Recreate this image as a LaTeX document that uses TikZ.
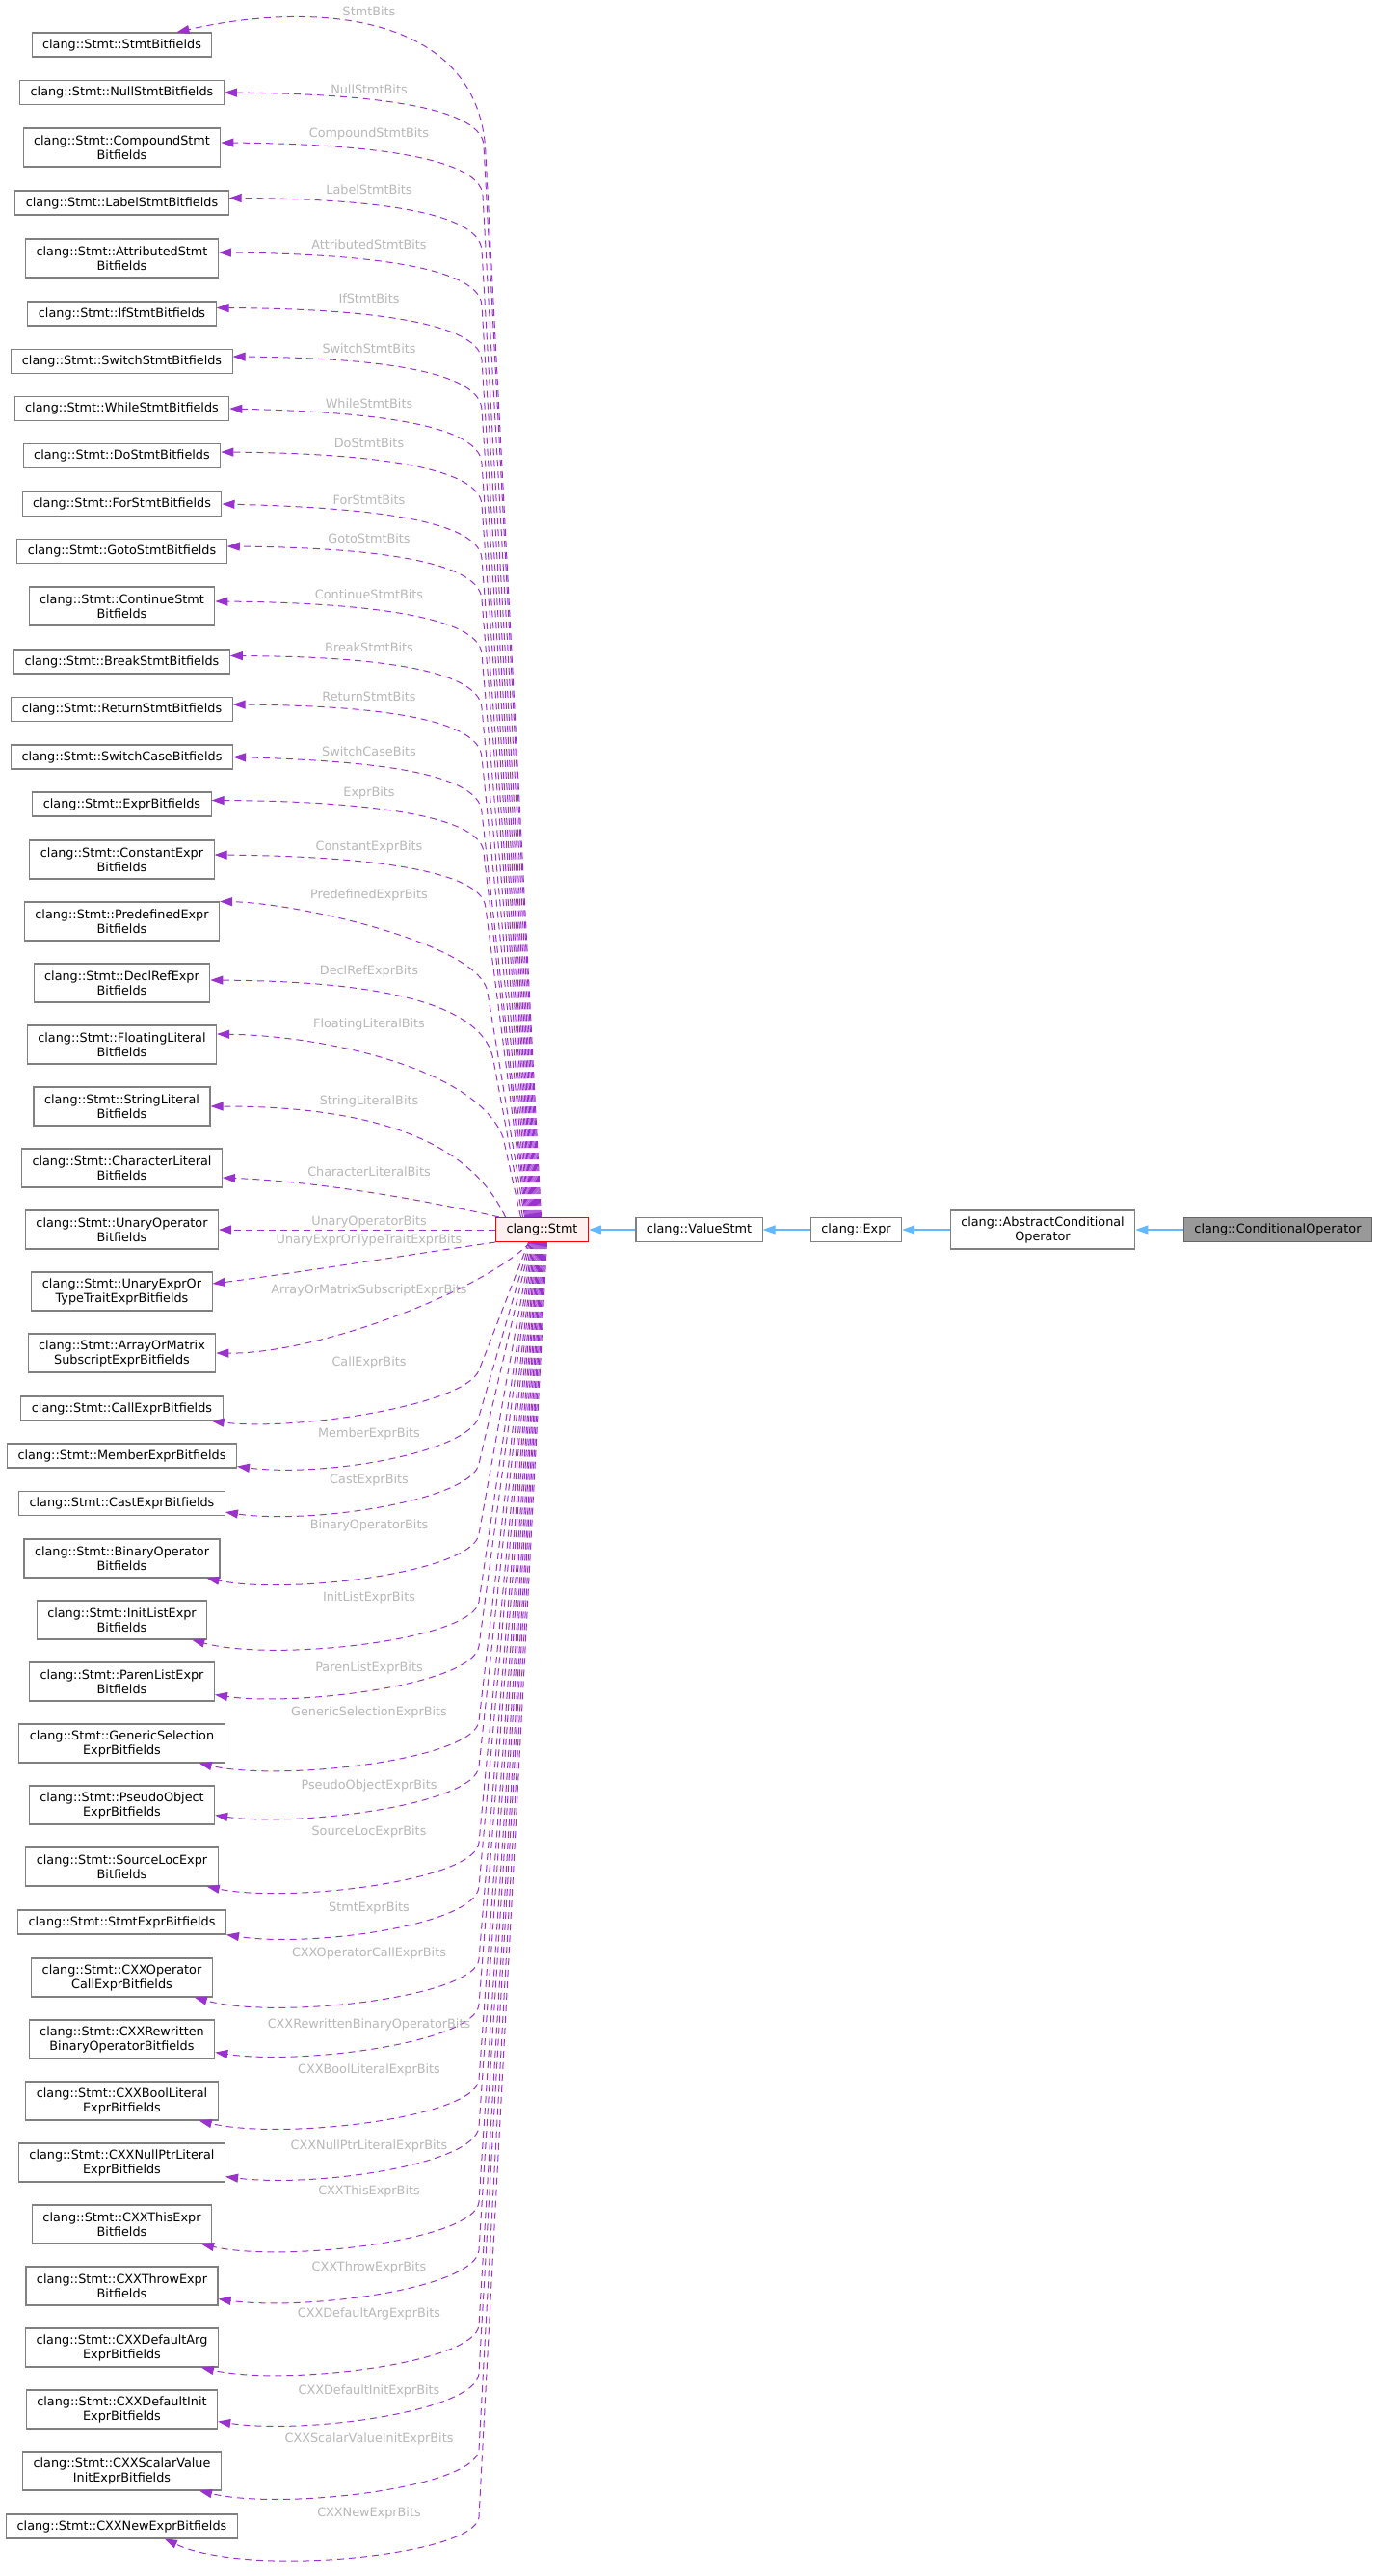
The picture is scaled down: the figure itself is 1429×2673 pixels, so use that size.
\documentclass[tikz,border=0pt]{standalone}
\usepackage{fontspec}
\setmainfont{DejaVu Sans}
\usetikzlibrary{arrows.meta,calc}
\definecolor{purp}{HTML}{9A32CD}
\definecolor{inhblue}{HTML}{63B8FF}
\definecolor{bordergray}{HTML}{808080}
\definecolor{lblgray}{HTML}{B8B8B8}
\definecolor{stmtfill}{HTML}{FFF0F0}
\definecolor{condfill}{HTML}{999999}
\definecolor{conddraw}{HTML}{666666}
\tikzset{
 cls/.style={draw=bordergray, line width=1.1pt, fill=white, inner xsep=11pt, inner ysep=5pt, minimum height=25pt, align=center, font=\fontsize{12.8pt}{15pt}\selectfont},
 cls2/.style={cls, minimum height=40pt},
 lbl/.style={text=lblgray, inner sep=0pt, font=\fontsize{12.8pt}{15pt}\selectfont},
 dep/.style={draw=purp, line width=1.0pt, dash pattern=on 7pt off 5pt, -{Triangle[length=13pt,width=9pt]}},
 inh/.style={draw=inhblue, line width=1.2pt, -{Triangle[length=13pt,width=9pt]}},
}
% #1 id, #2 stmt anchor, #3 xshift, #4 tip, #5 K, #6 c1, #7 c2, #8 label, #9 label y
\newcommand\edgeE[9]{%
  \draw[dep] ([xshift=#3pt]stmt.#2) -- (#5) .. controls (#6) and (#7) .. (#4);
  \node[lbl] (l#1) at (383,#9) {#8};
}
\begin{document}
\begin{tikzpicture}[x=1pt,y=-1pt]
\useasboundingbox[fill=white] (0,0) rectangle (1429,2673);
% right chain
\node[cls, fill=stmtfill, draw=red] (stmt) at (562.5,1276) {clang::Stmt};
\node[cls] (vstmt) at (725.5,1276) {clang::ValueStmt};
\node[cls] (expr) at (888.5,1276) {clang::Expr};
\node[cls2] (acond) at (1082,1276) {clang::AbstractConditional\\Operator};
\node[cls, fill=condfill, draw=conddraw] (cond) at (1326,1276) {clang::ConditionalOperator};
\draw[inh] (vstmt.west) -- (stmt.east);
\draw[inh] (expr.west) -- (vstmt.east);
\draw[inh] (acond.west) -- (expr.east);
\draw[inh] (cond.west) -- (acond.east);
% left column
\node[cls] (b1) at (126.5,46.5) {clang::Stmt::StmtBitfields};
\node[cls] (b2) at (126.5,96) {clang::Stmt::NullStmtBitfields};
\node[cls2] (b3) at (126.5,153) {clang::Stmt::CompoundStmt\\Bitfields};
\node[cls] (b4) at (126.5,210.5) {clang::Stmt::LabelStmtBitfields};
\node[cls2] (b5) at (126.5,268) {clang::Stmt::AttributedStmt\\Bitfields};
\node[cls] (b6) at (126.5,325.5) {clang::Stmt::IfStmtBitfields};
\node[cls] (b7) at (126.5,375) {clang::Stmt::SwitchStmtBitfields};
\node[cls] (b8) at (126.5,424) {clang::Stmt::WhileStmtBitfields};
\node[cls] (b9) at (126.5,473) {clang::Stmt::DoStmtBitfields};
\node[cls] (b10) at (126.5,523) {clang::Stmt::ForStmtBitfields};
\node[cls] (b11) at (126.5,572) {clang::Stmt::GotoStmtBitfields};
\node[cls2] (b12) at (126.5,629) {clang::Stmt::ContinueStmt\\Bitfields};
\node[cls] (b13) at (126.5,686.5) {clang::Stmt::BreakStmtBitfields};
\node[cls] (b14) at (126.5,736) {clang::Stmt::ReturnStmtBitfields};
\node[cls] (b15) at (126.5,785.5) {clang::Stmt::SwitchCaseBitfields};
\node[cls] (b16) at (126.5,834.5) {clang::Stmt::ExprBitfields};
\node[cls2] (b17) at (126.5,892) {clang::Stmt::ConstantExpr\\Bitfields};
\node[cls2] (b18) at (126.5,956) {clang::Stmt::PredefinedExpr\\Bitfields};
\node[cls2] (b19) at (126.5,1020) {clang::Stmt::DeclRefExpr\\Bitfields};
\node[cls2] (b20) at (126.5,1084) {clang::Stmt::FloatingLiteral\\Bitfields};
\node[cls2] (b21) at (126.5,1148) {clang::Stmt::StringLiteral\\Bitfields};
\node[cls2] (b22) at (126.5,1212) {clang::Stmt::CharacterLiteral\\Bitfields};
\node[cls2] (b23) at (126.5,1276) {clang::Stmt::UnaryOperator\\Bitfields};
\node[cls2] (b24) at (126.5,1340) {clang::Stmt::UnaryExprOr\\TypeTraitExprBitfields};
\node[cls2] (b25) at (126.5,1404) {clang::Stmt::ArrayOrMatrix\\SubscriptExprBitfields};
\node[cls] (b26) at (126.5,1461.5) {clang::Stmt::CallExprBitfields};
\node[cls] (b27) at (126.5,1510.5) {clang::Stmt::MemberExprBitfields};
\node[cls] (b28) at (126.5,1560) {clang::Stmt::CastExprBitfields};
\node[cls2] (b29) at (126.5,1617) {clang::Stmt::BinaryOperator\\Bitfields};
\node[cls2] (b30) at (126.5,1681) {clang::Stmt::InitListExpr\\Bitfields};
\node[cls2] (b31) at (126.5,1745) {clang::Stmt::ParenListExpr\\Bitfields};
\node[cls2] (b32) at (126.5,1809) {clang::Stmt::GenericSelection\\ExprBitfields};
\node[cls2] (b33) at (126.5,1873) {clang::Stmt::PseudoObject\\ExprBitfields};
\node[cls2] (b34) at (126.5,1937) {clang::Stmt::SourceLocExpr\\Bitfields};
\node[cls] (b35) at (126.5,1994.5) {clang::Stmt::StmtExprBitfields};
\node[cls2] (b36) at (126.5,2052) {clang::Stmt::CXXOperator\\CallExprBitfields};
\node[cls2] (b37) at (126.5,2116) {clang::Stmt::CXXRewritten\\BinaryOperatorBitfields};
\node[cls2] (b38) at (126.5,2180) {clang::Stmt::CXXBoolLiteral\\ExprBitfields};
\node[cls2] (b39) at (126.5,2244) {clang::Stmt::CXXNullPtrLiteral\\ExprBitfields};
\node[cls2] (b40) at (126.5,2308) {clang::Stmt::CXXThisExpr\\Bitfields};
\node[cls2] (b41) at (126.5,2372) {clang::Stmt::CXXThrowExpr\\Bitfields};
\node[cls2] (b42) at (126.5,2436) {clang::Stmt::CXXDefaultArg\\ExprBitfields};
\node[cls2] (b43) at (126.5,2500) {clang::Stmt::CXXDefaultInit\\ExprBitfields};
\node[cls2] (b44) at (126.5,2564) {clang::Stmt::CXXScalarValue\\InitExprBitfields};
\node[cls] (b45) at (126.5,2621.5) {clang::Stmt::CXXNewExprBitfields};
% upper edges
\edgeE{1}{north}{-1}{[xshift=-37pt]b1.north east}{504,160}{499,15}{330,0}{StmtBits}{12}
\edgeE{2}{north}{-2}{b2.east}{502,151}{500,106}{354,97}{NullStmtBits}{93}
\edgeE{3}{north}{-3}{[yshift=5pt]b3.east}{501,203}{499,158}{349,149}{CompoundStmtBits}{139}
\edgeE{4}{north}{-4}{[yshift=5pt]b4.east}{500,260}{498,215}{358,206}{LabelStmtBits}{197}
\edgeE{5}{north}{-5}{[yshift=6pt]b5.east}{500,317}{498,272}{347,263}{AttributedStmtBits}{254}
\edgeE{6}{north}{-6}{[yshift=6pt]b6.east}{500,374}{498,329}{345,320}{IfStmtBits}{310}
\edgeE{7}{north}{-7}{[yshift=5pt]b7.east}{500,425}{498,380}{362,371}{SwitchStmtBits}{362}
\edgeE{8}{north}{-8}{b8.east}{500,481}{498,436}{360,427}{WhileStmtBits}{419}
\edgeE{9}{north}{-9}{[yshift=4pt]b9.east}{500,524}{498,479}{350,470}{DoStmtBits}{460}
\edgeE{10}{north}{-10}{b10.east}{500,580}{498,535}{351,526}{ForStmtBits}{519}
\edgeE{11}{north}{-11}{[yshift=5pt]b11.east}{500,622}{498,577}{356,568}{GotoStmtBits}{559}
\edgeE{12}{north}{-12}{[yshift=5pt]b12.east}{500,679}{498,634}{343,625}{ContinueStmtBits}{617}
\edgeE{13}{north}{-13}{[yshift=6pt]b13.east}{500,735}{498,690}{360,681}{BreakStmtBits}{672}
\edgeE{14}{north}{-14}{[yshift=5pt]b14.east}{500,786}{498,741}{362,732}{ReturnStmtBits}{723}
\edgeE{15}{north}{-15}{b15.east}{500,843}{498,798}{363,789}{SwitchCaseBits}{780}
\edgeE{16}{north}{-16}{[yshift=4pt]b16.east}{502,885}{500,840}{340,831}{ExprBits}{823}
\edgeE{17}{north}{-17}{[yshift=5pt]b17.east}{504,942}{501,897}{342,888}{ConstantExprBits}{879}
\edgeE{18}{north}{-18}{b18.north east}{506,1030}{500,980}{310,937}{PredefinedExprBits}{929}
\edgeE{19}{north}{-20}{[yshift=3pt]b19.east}{512,1100}{500,1030}{350,1018}{DeclRefExprBits}{1008}
\edgeE{20}{north}{-22}{[yshift=11pt]b20.east}{522,1180}{495,1110}{340,1075}{FloatingLiteralBits}{1063}
\draw[dep] ([xshift=-38pt]stmt.north) .. controls (495,1200) and (420,1148) .. (b21.east);
\node[lbl] (l21) at (383,1143) {StringLiteralBits};
\draw[dep] ([xshift=4pt]stmt.north west) .. controls (440,1245) and (330,1226) .. ([yshift=-10pt]b22.east);
\node[lbl] (l22) at (383,1216) {CharacterLiteralBits};
\draw[dep] (stmt.west) -- (b23.east);
\node[lbl] (l23) at (383,1268) {UnaryOperatorBits};
\draw[dep] (stmt.south west) .. controls (450,1298) and (300,1322) .. ([yshift=8pt]b24.east);
\node[lbl] (l24) at (383,1287) {UnaryExprOrTypeTraitExprBits};
\draw[dep] ([xshift=-12pt]stmt.south) .. controls (500,1340) and (330,1405) .. (b25.east);
\node[lbl] (l25) at (383,1339) {ArrayOrMatrixSubscriptExprBits};
% lower edges
\edgeE{26}{south}{-14}{[xshift=-12pt]b26.south east}{497,1422}{482,1459}{305,1485}{CallExprBits}{1414}
\edgeE{27}{south}{-13}{[yshift=2pt]b27.south east}{497,1470}{485,1508}{335,1533}{MemberExprBits}{1488}
\edgeE{28}{south}{-12}{[yshift=4pt]b28.south east}{497,1519}{488,1558}{319,1582}{CastExprBits}{1536}
\edgeE{29}{south}{-11}{[xshift=-14pt]b29.south east}{497,1592}{490,1632}{299,1655}{BinaryOperatorBits}{1583}
\edgeE{30}{south}{-10}{[xshift=-16pt]b30.south east}{497,1662}{491,1702}{284,1725}{InitListExprBits}{1658}
\edgeE{31}{south}{-9}{[yshift=7pt]b31.south east}{497,1708}{492,1748}{309,1771}{ParenListExprBits}{1731}
\edgeE{32}{south}{-8}{[xshift=-27pt]b32.south east}{497,1786}{492,1826}{292,1849}{GenericSelectionExprBits}{1777}
\edgeE{33}{south}{-7}{[yshift=10pt]b33.south east}{497,1833}{493,1873}{308,1896}{PseudoObjectExprBits}{1853}
\edgeE{34}{south}{-6}{[xshift=-12pt]b34.south east}{497,1912}{493,1952}{299,1975}{SourceLocExprBits}{1901}
\edgeE{35}{south}{-5}{b35.south east}{497,1958}{493,1998}{322,2021}{StmtExprBits}{1980}
\edgeE{36}{south}{-4}{[xshift=-19pt]b36.south east}{497,2033}{493,2073}{286,2096}{CXXOperatorCallExprBits}{2027}
\edgeE{37}{south}{-3}{[yshift=7pt]b37.south east}{497,2080}{493,2120}{311,2143}{CXXRewrittenBinaryOperatorBits}{2101}
\edgeE{38}{south}{-2}{[xshift=-20pt]b38.south east}{497,2158}{493,2198}{292,2221}{CXXBoolLiteralExprBits}{2148}
\edgeE{39}{south}{-1}{[yshift=6pt]b39.south east}{497,2207}{493,2247}{324,2270}{CXXNullPtrLiteralExprBits}{2227}
\edgeE{40}{south}{0}{[xshift=-11pt]b40.south east}{497,2285}{493,2325}{294,2348}{CXXThisExprBits}{2274}
\edgeE{41}{south}{1}{[yshift=7pt]b41.south east}{497,2335}{493,2375}{317,2398}{CXXThrowExprBits}{2353}
\edgeE{42}{south}{2}{[xshift=-18pt]b42.south east}{497,2413}{493,2453}{294,2476}{CXXDefaultArgExprBits}{2401}
\edgeE{43}{south}{3}{[yshift=8pt]b43.south east}{497,2463}{493,2503}{315,2526}{CXXDefaultInitExprBits}{2481}
\edgeE{44}{south}{4}{[xshift=-23pt]b44.south east}{497,2542}{493,2582}{292,2605}{CXXScalarValueInitExprBits}{2531}
\edgeE{45}{south}{5}{[xshift=-76pt]b45.south east}{497,2612}{493,2652}{257,2675}{CXXNewExprBits}{2608}
\end{tikzpicture}
\end{document}
